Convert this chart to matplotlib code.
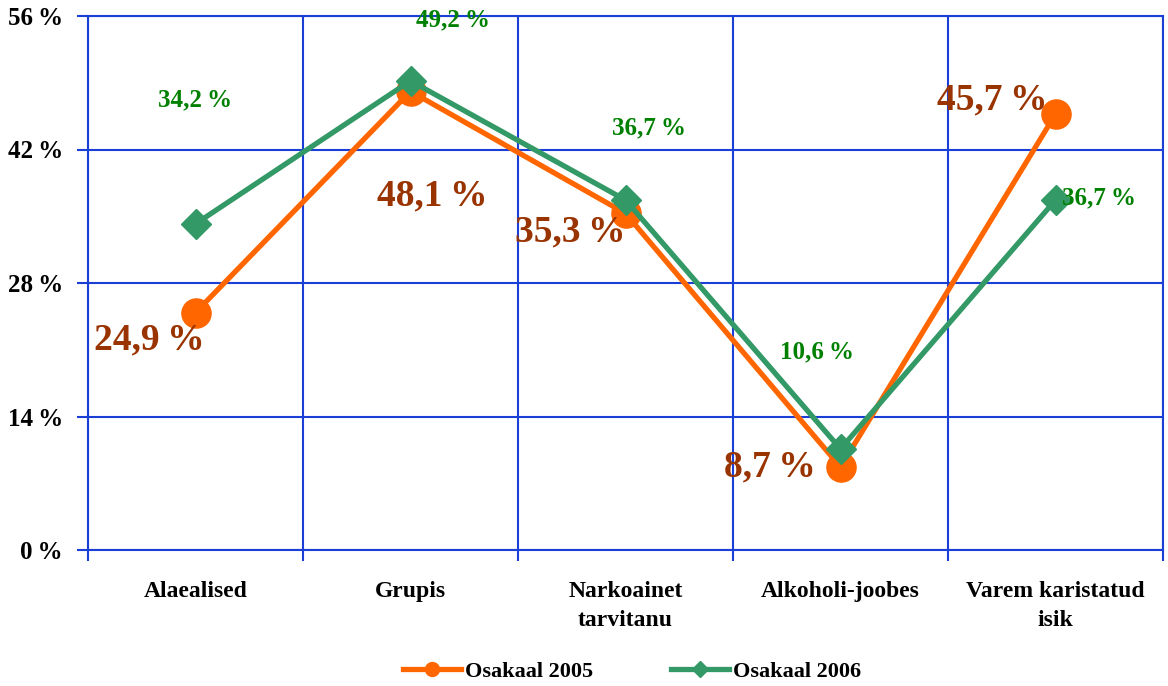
import numpy as np
import matplotlib.pyplot as plt

plt.rcParams['font.family'] = ['Liberation Serif', 'DejaVu Serif']
plt.rcParams['font.weight'] = 'bold'

categories = ['Alaealised', 'Grupis', 'Narkoainet\ntarvitanu', 'Alkoholi-joobes', 'Varem karistatud\nisik']
values_2005 = [24.9, 48.1, 35.3, 8.7, 45.7]
values_2006 = [34.2, 49.2, 36.7, 10.6, 36.7]
labels_2005 = ['24,9\u2009%', '48,1\u2009%', '35,3\u2009%', '8,7\u2009%', '45,7\u2009%']
labels_2006 = ['34,2\u2009%', '49,2\u2009%', '36,7\u2009%', '10,6\u2009%', '36,7\u2009%']
yticks = [0, 14, 28, 42, 56]

# label offsets in pixels (dx, dy)
off_2005 = [(-46, -27), (22, -105), (-55, -19), (-71, 0), (-63, 14)]
off_2006 = [(0, 124), (43, 61), (24, 72), (-23, 97), (44, 2)]

orange = '#FF6600'
green = '#339966'
blue = '#1a3fd6'

fig = plt.figure(figsize=(11.68, 6.86), dpi=100)
ax = fig.add_axes([88/1168, 136/686, 1075/1168, 534/686])

x = np.arange(len(categories))
ax.plot(x, values_2005, color=orange, lw=3.8, marker='o', ms=21, zorder=3)
ax.plot(x, values_2006, color=green, lw=3.8, marker='D', ms=15, zorder=4)

for xi, v, s, (dx, dy) in zip(x, values_2005, labels_2005, off_2005):
    ax.annotate(s, (xi, v), xytext=(dx, dy), textcoords='offset pixels',
                ha='center', va='center', fontsize=27, color='#993300', zorder=5)
for xi, v, s, (dx, dy) in zip(x, values_2006, labels_2006, off_2006):
    ax.annotate(s, (xi, v), xytext=(dx, dy), textcoords='offset pixels',
                ha='center', va='center', fontsize=18, color='#008000', zorder=5)

ax.set_xlim(-0.5, len(categories) - 0.5)
ax.set_ylim(0, 56)
ax.set_yticks(yticks)
ax.set_yticklabels([f'{t}\u2009%' for t in yticks], fontsize=18)
ax.set_xticks(x)
ax.set_xticklabels(categories, fontsize=17, linespacing=1.55)
ax.set_xticks(np.arange(-0.5, len(categories)), minor=True)
ax.tick_params(axis='x', which='major', length=0, pad=22)
ax.tick_params(axis='x', which='minor', length=8, width=1.5, color=blue, direction='out')
ax.tick_params(axis='y', length=8, width=1.5, color=blue, direction='out', pad=10)

ax.grid(axis='y', which='major', color=blue, lw=1.5)
ax.grid(axis='x', which='minor', color=blue, lw=1.5)
ax.set_axisbelow(True)
for sp in ax.spines.values():
    sp.set_color(blue)
    sp.set_linewidth(1.5)

h1, = ax.plot([], [], color=orange, lw=3.8, marker='o', ms=10)
h2, = ax.plot([], [], color=green, lw=3.8, marker='D', ms=8)
fig.legend([h1, h2], ['Osakaal 2005', 'Osakaal 2006'], loc='center',
           bbox_to_anchor=(632/1168, 1 - 672/686), ncol=2, frameon=False,
           fontsize=16, handlelength=2.6, columnspacing=3.5, handletextpad=0.2)

fig.savefig('out.png', dpi=100)
